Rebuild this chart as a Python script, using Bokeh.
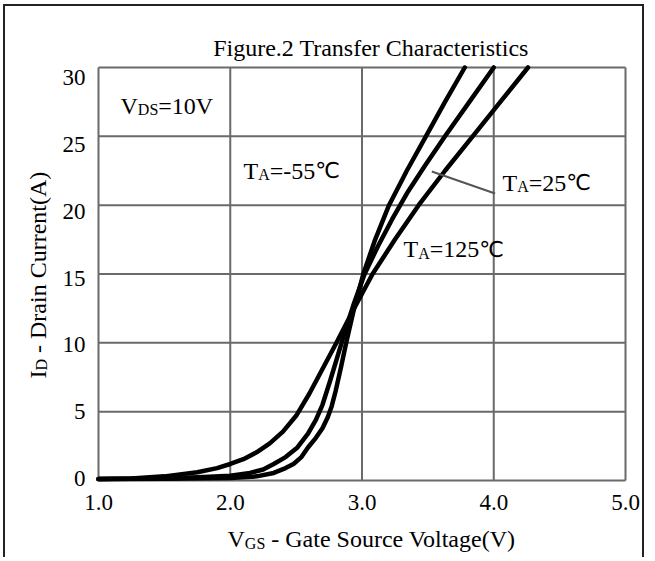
import math
from bokeh.plotting import figure
from bokeh.models import Range1d, Label
from bokeh.core.properties import value
from bokeh.embed import file_html
from bokeh.resources import INLINE

# ---- data ----
vgs_m55 = [1.0, 1.5, 2.0, 2.2, 2.33, 2.42, 2.48, 2.54, 2.59, 2.65, 2.70, 2.74, 2.77, 2.80, 2.84, 2.88, 2.94, 3.01, 3.10, 3.205, 3.34, 3.485, 3.63, 3.78]
id_m55 = [0.1, 0.12, 0.18, 0.3, 0.55, 0.9, 1.2, 1.7, 2.4, 3.1, 3.8, 4.6, 5.4, 6.5, 8.2, 10.0, 12.5, 15.0, 17.5, 20.0, 22.5, 25.0, 27.5, 30.0]

vgs_25 = [1.0, 1.5, 1.8, 2.0, 2.15, 2.25, 2.33, 2.42, 2.51, 2.59, 2.65, 2.70, 2.76, 2.82, 2.88, 2.94, 3.02, 3.12, 3.23, 3.35, 3.48, 3.63, 3.815, 4.0]
id_25 = [0.1, 0.15, 0.25, 0.35, 0.55, 0.8, 1.2, 1.7, 2.4, 3.4, 4.4, 5.5, 7.3, 9.2, 11.1, 12.9, 15.0, 17.0, 19.0, 21.0, 22.9, 25.0, 27.5, 30.0]

vgs_125 = [1.0, 1.25, 1.5, 1.75, 1.9, 2.0, 2.1, 2.2, 2.3, 2.4, 2.5, 2.6, 2.7, 2.8, 2.94, 3.08, 3.25, 3.43, 3.63, 3.84, 4.05, 4.26]
id_125 = [0.1, 0.15, 0.3, 0.6, 0.9, 1.2, 1.55, 2.05, 2.7, 3.55, 4.7, 6.3, 8.1, 9.9, 12.5, 15.0, 17.5, 20.0, 22.5, 25.0, 27.5, 30.0]

x_ticks = [1.0, 2.0, 3.0, 4.0, 5.0]
x_tick_labels = ["1.0", "2.0", "3.0", "4.0", "5.0"]
y_ticks = [0, 5, 10, 15, 20, 25, 30]
y_tick_labels = ["0", "5", "10", "15", "20", "25", "30"]

x_min, x_max = 1.0, 5.0
y_min, y_max = 0.0, 30.0

title_text = "Figure.2 Transfer Characteristics"
label_vds = [("V", 24, 0), ("DS", 16, 4), ("=10V", 24, 0)]
label_m55 = [("T", 24, 0), ("A", 16, 4), ("=-55", 24, 0)]
label_25 = [("T", 24, 0), ("A", 16, 4), ("=25", 24, 0)]
label_125 = [("T", 24, 0), ("A", 16, 4), ("=125", 24, 0)]
xlabel = [("V", 24, 0), ("GS", 16, 4), (" - Gate Source Voltage(V)", 24, 0)]
ylabel = [("I", 24, 0), ("D", 16, 4), (" - Drain Current(A)", 24, 0)]
degc = "\u2103"

SERIF = "Liberation Serif"
W = {' ': 250, '(': 333, ')': 333, '-': 333, '.': 250, '=': 564,
     'A': 722, 'C': 667, 'D': 722, 'F': 556, 'G': 722, 'I': 333, 'S': 556,
     'T': 611, 'V': 722, 'a': 444, 'c': 444, 'e': 444, 'f': 333, 'g': 500,
     'h': 500, 'i': 278, 'l': 278, 'n': 500, 'o': 500, 'r': 333, 's': 389,
     't': 278, 'u': 500}
for d in "0123456789":
    W[d] = 500


def tw(s, size):
    return sum(W.get(c, 500) for c in s) * size / 1000.0


# ---- layout (pixels) ----
FIG_W, FIG_H = 641, 553
PLOT_L, PLOT_R, PLOT_T, PLOT_B = 93, 620, 61, 474   # plot box inside the canvas
OX, OY = 5, 6          # page offset of the canvas (margin + border)
BASE_FIX = 8           # correction of the rendered alphabetic baseline
sx_per = (PLOT_R - PLOT_L) / (x_max - x_min)
sy_per = (PLOT_B - PLOT_T) / (y_max - y_min)

xr = Range1d(x_min - PLOT_L / sx_per, x_max + (FIG_W - PLOT_R) / sx_per)
yr = Range1d(y_min - (FIG_H - PLOT_B) / sy_per, y_max + PLOT_T / sy_per)

p = figure(width=FIG_W, height=FIG_H, output_backend="svg", toolbar_location=None,
           x_range=xr, y_range=yr, x_axis_location=None, y_axis_location=None,
           min_border=0, title=None)
p.styles = {"border-left": "2px solid #222", "border-right": "2px solid #222",
            "border-top": "2px solid #222", "margin-left": "3px", "margin-top": "4px"}
p.background_fill_color = "white"
p.border_fill_color = "white"
p.outline_line_color = None
p.xgrid.visible = False
p.ygrid.visible = False


def VX(page_px):
    return x_min + (page_px - OX - PLOT_L) / sx_per


def IY(page_py):
    return y_min + (PLOT_B - (page_py - OY)) / sy_per


grid_col = "#6a6a6a"
p.segment(x0=x_ticks, x1=x_ticks, y0=[y_min] * len(x_ticks), y1=[y_max] * len(x_ticks),
          line_color=grid_col, line_width=2)
p.segment(x0=[x_min] * len(y_ticks), x1=[x_max] * len(y_ticks), y0=y_ticks, y1=y_ticks,
          line_color=grid_col, line_width=2)

# tick labels (y labels sit on a slightly tighter spacing, as in the reference)
p.text(x=x_ticks, y=[IY(510 - BASE_FIX)] * len(x_ticks), text=x_tick_labels,
       text_font=value(SERIF), text_font_size="23px", text_color="black",
       text_align="center", text_baseline="alphabetic")
p.text(x=[VX(85)] * len(y_ticks), y=[IY(478 - t * 401 / 30) for t in y_ticks], text=y_tick_labels,
       text_font=value(SERIF), text_font_size="23px", text_color="black",
       text_align="right", text_baseline="middle")

for xs, ys in ((vgs_m55, id_m55), (vgs_25, id_25), (vgs_125, id_125)):
    p.line(xs, ys, line_color="black", line_width=4.5, line_join="round", line_cap="round")

# leader line for T_A=25C
p.line([3.53, 4.01], [22.45, 20.85], line_color="#555555", line_width=2)


def add_text(x, y, text, size, angle, font):
    p.add_layout(Label(x=x, y=y, text=text, angle=angle,
                       text_font=font, text_font_size=f"{size}px", text_color="black",
                       text_baseline="alphabetic", text_align="left"))


def run(px, py, parts, angle=0.0, tail=None):
    cum = 0.0
    for text, size, dy in parts:
        lead = len(text) - len(text.lstrip(" "))
        cum += lead * W[' '] * size / 1000.0
        text = text.lstrip(" ")
        if angle == 0:
            x, y = VX(px + cum), IY(py + dy - BASE_FIX)
        else:
            x, y = VX(px + dy - BASE_FIX), IY(py - cum)
        add_text(x, y, text, size, angle, SERIF)
        cum += tw(text, size)
    if tail is not None:
        if angle == 0:
            x, y = VX(px + cum), IY(py - BASE_FIX)
        else:
            x, y = VX(px - BASE_FIX), IY(py - cum)
        add_text(x, y, tail, 22, angle, "DejaVu Sans")


p.add_layout(Label(x=VX(370.5), y=IY(55 - BASE_FIX), text=title_text, text_font=SERIF,
                   text_font_size="24px", text_color="black", text_align="center",
                   text_baseline="alphabetic"))
run(120, 113, label_vds)
run(243, 178, label_m55, tail=degc)
run(502, 190, label_25, tail=degc)
run(403, 256.5, label_125, tail=degc)
run(227, 546.5, xlabel)
run(45, 378, ylabel, angle=math.pi / 2)

open("out.html", "w").write(file_html(p, INLINE))
